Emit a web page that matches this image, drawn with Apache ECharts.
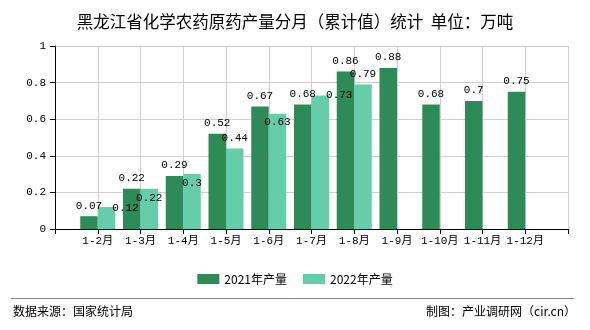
<!DOCTYPE html>
<html>
<head>
<meta charset="utf-8">
<script src="https://cdn.jsdelivr.net/npm/echarts@6/dist/echarts.min.js"></script>
<style>
html,body{margin:0;padding:0;background:#fff;}
#chart{width:590px;height:330px;}
</style>
</head>
<body>
<div id="chart"></div>
<script>
// ---- data ----
var categories = ['1-2月','1-3月','1-4月','1-5月','1-6月','1-7月','1-8月','1-9月','1-10月','1-11月','1-12月'];
var values2021 = [0.07,0.22,0.29,0.52,0.67,0.68,0.86,0.88,0.68,0.7,0.75];
var values2022 = [0.12,0.22,0.3,0.44,0.63,0.73,0.79];
var seriesNames = ['2021年产量','2022年产量'];
var yTicks = [0,0.2,0.4,0.6,0.8,1];

// label nudges for the 2022 series (layout only)
var labelShift2022 = [[19,11.5],[0,19.5],[0,19.5],[0,0],[0,19],[19,10.5],[0,0]];

var monoFont = "'Liberation Mono','Noto Sans CJK SC',monospace";

// axis padded with an empty slot at each end
var axisData = [''].concat(categories).concat(['']);
function pad(arr){
  var out = [null];
  for (var i=0;i<categories.length;i++) out.push(i<arr.length?arr[i]:null);
  out.push(null);
  return out;
}
var d2021 = pad(values2021);
var d2022 = pad(values2022).map(function(v,i){
  if (v===null) return null;
  var s = labelShift2022[i-1] || [0,0];
  return {value:v, label:{offset:s}};
});

var chart = echarts.init(document.getElementById('chart'), null, {renderer:'canvas'});
chart.setOption({
  animation:false,
  backgroundColor:'#fff',
  title:{
    text:'黑龙江省化学农药原药产量分月（累计值）统计  单位：万吨',
    left:'center', top:8,
    textStyle:{fontFamily:"'Noto Sans CJK SC',sans-serif",fontSize:16.5,fontWeight:'normal',color:'#000'}
  },
  legend:{
    data:seriesNames, left:'center', top:268,
    itemWidth:22, itemHeight:10, itemGap:16,
    icon:'rect',
    textStyle:{fontFamily:"'Noto Sans CJK SC',sans-serif",fontSize:12,color:'#000'}
  },
  grid:{left:55,right:22,top:46,bottom:101,containLabel:false},
  xAxis:{
    type:'category', data:axisData, boundaryGap:false,
    axisLine:{lineStyle:{color:'#000',width:1}},
    axisTick:{show:true,length:5,lineStyle:{color:'#000'}},
    axisLabel:{interval:0,margin:7,fontFamily:monoFont,fontSize:11,color:'#000'},
    splitLine:{show:true,lineStyle:{color:'#d0d0d0',width:1}}
  },
  yAxis:{
    type:'value', min:yTicks[0], max:yTicks[yTicks.length-1], interval:0.2,
    axisLine:{show:true,lineStyle:{color:'#000',width:1}},
    axisTick:{show:true,length:5,lineStyle:{color:'#000'}},
    axisLabel:{margin:9,fontFamily:monoFont,fontSize:11,color:'#000'},
    splitLine:{show:true,lineStyle:{color:'#d0d0d0',width:1}}
  },
  series:[
    {
      name:seriesNames[0], type:'bar', data:d2021, barWidth:17.5, barGap:'0%',
      itemStyle:{color:'#2e8b57'},
      label:{show:true,position:'top',distance:5,fontFamily:monoFont,fontSize:11,color:'#000'}
    },
    {
      name:seriesNames[1], type:'bar', data:d2022, barWidth:17.5, barGap:'0%',
      itemStyle:{color:'#66cdaa'},
      label:{show:true,position:'top',distance:5,fontFamily:monoFont,fontSize:11,color:'#000'}
    }
  ],
  graphic:[
    {type:'line',shape:{x1:11,y1:298.5,x2:574,y2:298.5},style:{stroke:'#888',lineWidth:1}},
    {type:'text',left:13,top:305,style:{text:'数据来源：国家统计局',font:"12px 'Noto Sans CJK SC'",fill:'#000'}},
    {type:'text',right:14,top:305,style:{text:'制图：产业调研网（cir.cn）',font:"12px 'Noto Sans CJK SC'",fill:'#000'}}
  ]
});
</script>
</body>
</html>
